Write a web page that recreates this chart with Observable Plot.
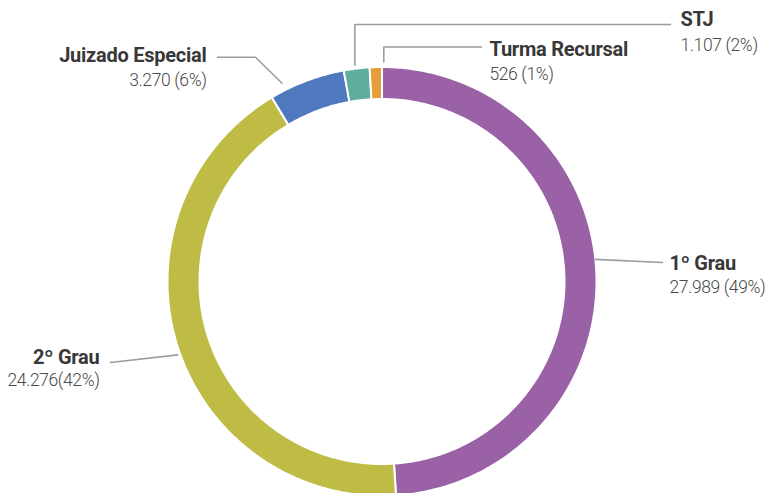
<!DOCTYPE html>
<html>
<head>
<meta charset="utf-8">
<script src="https://cdn.jsdelivr.net/npm/d3@7"></script>
<script src="https://cdn.jsdelivr.net/npm/@observablehq/plot@0.6"></script>
<style>
  html, body { margin: 0; padding: 0; background: #fff; }
  #chart { width: 766px; height: 493px; overflow: hidden; }
  #chart svg g.lbl-bold text { letter-spacing: -0.25px; }
  #chart svg g.lbl-val text { letter-spacing: -0.4px; }
</style>
</head>
<body>
<div id="chart"></div>
<script>
// ---- data ----
const categories = ["1º Grau", "2º Grau", "Juizado Especial", "STJ", "Turma Recursal"];
const values = [27989, 24276, 3270, 1107, 526];
const valueLabels = ["27.989 (49%)", "24.276(42%)", "3.270 (6%)", "1.107 (2%)", "526 (1%)"];
const colors = ["#9B61A7", "#BEBC45", "#4F79BE", "#5FAE9D", "#E59C3A"];

// ---- layout ----
const W = 766, H = 493;
const cx = 381.5, cy = 281, rOuter = 214.5, rInner = 182.5;
const fontFamily = "Roboto, 'Liberation Sans', sans-serif";
// label placement: text x, anchor, baselines; leader: position within slice (t), radius, bend, end
const labelLayout = [
  {x: 669, anchor: "start", b1: 269, b2: 292, t: 0.477, r: 214.5, bend: null, end: [662, 262]},
  {x: 99,  anchor: "end",   b1: 363, b2: 385, t: 0.484, r: 217,   bend: null, end: [110, 362]},
  {x: 206, anchor: "end",   b1: 61,  b2: 85.5, t: 0.2, r: 222,    bend: [255, 56.7], end: [217, 56.7]},
  {x: 680, anchor: "start", b1: 25,  b2: 50,  t: 0.45, r: 218,    bend: ["v", 24], end: [670, 24]},
  {x: 489, anchor: "start", b1: 55,  b2: 79,  t: 1.14, r: 219.5,  bend: ["v", 46.5], end: [481, 46.5]}
];

const rows = categories.map((name, i) => ({name, value: values[i], label: valueLabels[i], ...labelLayout[i]}));
const arcs = d3.pie().sort(null).value(d => d.value)(rows);

// slice polygons
const slicePts = [];
arcs.forEach(a => {
  const n = Math.max(4, Math.ceil((a.endAngle - a.startAngle) / 0.01));
  for (let k = 0; k <= n; k++) {
    const ang = a.startAngle + (a.endAngle - a.startAngle) * k / n;
    slicePts.push({name: a.data.name, x: cx + rOuter * Math.sin(ang), y: cy - rOuter * Math.cos(ang)});
  }
  for (let k = n; k >= 0; k--) {
    const ang = a.startAngle + (a.endAngle - a.startAngle) * k / n;
    slicePts.push({name: a.data.name, x: cx + rInner * Math.sin(ang), y: cy - rInner * Math.cos(ang)});
  }
  slicePts.push({name: a.data.name, x: cx + rOuter * Math.sin(a.startAngle), y: cy - rOuter * Math.cos(a.startAngle)});
});

// leader lines
const leaderPts = [];
arcs.forEach(a => {
  const d = a.data;
  const ang = a.startAngle + (a.endAngle - a.startAngle) * d.t;
  const sx = cx + d.r * Math.sin(ang), sy = cy - d.r * Math.cos(ang);
  leaderPts.push({name: d.name, x: sx, y: sy});
  if (d.bend) {
    if (d.bend[0] === "v") leaderPts.push({name: d.name, x: sx, y: d.bend[1]});
    else leaderPts.push({name: d.name, x: d.bend[0], y: d.bend[1]});
  }
  leaderPts.push({name: d.name, x: d.end[0], y: d.end[1]});
});

const fsBold = 20, fsVal = 17.5;

function labelMarks(anchor) {
  const sub = rows.filter(d => d.anchor === anchor);
  return [
    Plot.text(sub, {x: "x", y: d => d.b1 - 0.32 * fsBold, text: "name", textAnchor: anchor,
      fontSize: fsBold, fontWeight: "bold", fill: "#383838", fontFamily, className: "lbl-bold"}),
    Plot.text(sub, {x: "x", y: d => d.b2 - 0.32 * fsVal, text: "label", textAnchor: anchor,
      fontSize: fsVal, fontWeight: 300, fill: "#4a4a4a", fontFamily, className: "lbl-val"})
  ];
}

const chart = Plot.plot({
  width: W, height: H,
  margin: 0,
  x: {domain: [0, W], range: [0, W], axis: null},
  y: {domain: [0, H], range: [0, H], axis: null},
  color: {domain: categories, range: colors},
  style: {fontFamily, background: "#fff"},
  marks: [
    Plot.line(slicePts, {x: "x", y: "y", z: "name", fill: "name", stroke: "#fff", strokeWidth: 2, curve: "linear"}),
    Plot.line(leaderPts, {x: "x", y: "y", z: "name", stroke: "#9d9d9d", strokeWidth: 1.6, curve: "linear"}),
    ...labelMarks("start"),
    ...labelMarks("end")
  ]
});
document.getElementById("chart").appendChild(chart);
</script>
</body>
</html>
